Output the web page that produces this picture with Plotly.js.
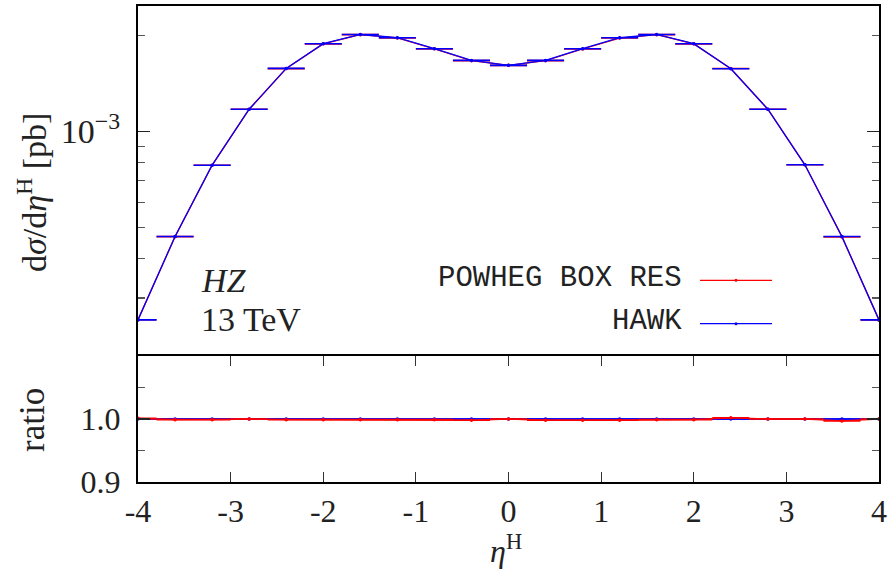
<!DOCTYPE html>
<html>
<head>
<meta charset="utf-8">
<script src="https://cdn.plot.ly/plotly-3.0.1.min.js"></script>
<style>html,body{margin:0;padding:0;background:#fff}#chart{width:895px;height:572px}</style>
</head>
<body>
<div id="chart"></div>
<script>
// bin centres of eta^H (bin width 0.4)
const etaH = [-4.0,-3.6,-3.2,-2.8,-2.4,-2.0,-1.6,-1.2,-0.8,-0.4,0.0,0.4,0.8,1.2,1.6,2.0,2.4,2.8,3.2,3.6,4.0];
// dsigma/deta^H [pb]
const hawk = [2.56e-4,4.68e-4,7.84e-4,1.175e-3,1.579e-3,1.888e-3,2.018e-3,1.971e-3,1.821e-3,1.673e-3,1.614e-3,1.673e-3,1.821e-3,1.971e-3,2.018e-3,1.888e-3,1.575e-3,1.175e-3,7.86e-4,4.68e-4,2.56e-4];
const powheg = [2.563e-4,4.675e-4,7.833e-4,1.175e-3,1.577e-3,1.886e-3,2.016e-3,1.969e-3,1.819e-3,1.670e-3,1.614e-3,1.670e-3,1.817e-3,1.967e-3,2.016e-3,1.886e-3,1.578e-3,1.175e-3,7.86e-4,4.666e-4,2.56e-4];
// ratios to HAWK
const ratioHawk = [1,1,1,1,1,1,1,1,1,1,1,1,1,1,1,1,1,1,1,1,1];
const ratioPowheg = [1.001,0.999,0.999,1.000,0.999,0.999,0.999,0.999,0.999,0.998,1.000,0.998,0.998,0.998,0.999,0.999,1.002,1.000,1.000,0.997,1.000];
const halfBin = 0.2;
const xTicks = [-4,-3,-2,-1,0,1,2,3,4];

const RED = '#ff0000', BLUE = '#0000ff';
function tr(y, color, xa, ya, name) {
  return {
    x: etaH, y: y, xaxis: xa, yaxis: ya, name: name, type: 'scatter',
    mode: 'lines+markers', showlegend: false,
    line: {color: color, width: 1.3},
    marker: {color: color, size: 3.5},
    error_x: {type: 'constant', value: halfBin, width: 0, thickness: 1.6, color: color},
    cliponaxis: true, hoverinfo: 'skip'
  };
}
const data = [
  tr(powheg, RED, 'x', 'y', 'POWHEG BOX RES'),
  tr(hawk, BLUE, 'x', 'y', 'HAWK'),
  tr(ratioHawk, BLUE, 'x2', 'y2', 'HAWK'),
  tr(ratioPowheg, RED, 'x2', 'y2', 'POWHEG BOX RES')
];

const W = 741, H = 476, L = 138, T = 6;
const px = v => (v - L) / W;
const py = v => (T + H - v) / H;
const serif = 'Liberation Serif, serif';
const TXT = '#222';
const splitY = 127 / H;

const axX = {
  range: [-4, 4], tickvals: xTicks, tickwidth: 1.2, tickcolor: '#333',
  showline: true, linecolor: '#000', linewidth: 2, showgrid: false, zeroline: false
};
const layout = {
  width: 895, height: 572,
  margin: {l: L, r: 895 - L - W, t: T, b: 572 - T - H},
  paper_bgcolor: '#fff', plot_bgcolor: '#fff',
  font: {family: serif, size: 32, color: TXT},
  xaxis: Object.assign({}, axX, {anchor: 'y', mirror: true, ticks: '', showticklabels: false}),
  xaxis2: Object.assign({}, axX, {anchor: 'y2', mirror: 'ticks', ticks: 'inside', ticklen: 10, showticklabels: true,
    ticktext: xTicks.map(v => v < 0 ? '-' + Math.abs(v) : String(v)),
    tickfont: {family: serif, size: 32, color: TXT}}),
  yaxis: {
    type: 'log', domain: [splitY + 1 / H, 1], anchor: 'x',
    range: [Math.log10(2.0e-4), Math.log10(2.48e-3)],
    tickvals: [1e-3], ticktext: ['10<sup>−3</sup>'],
    ticks: 'inside', ticklen: 12, tickwidth: 1.2, tickcolor: '#222',
    minor: {tickvals: [2e-4,3e-4,4e-4,5e-4,6e-4,7e-4,8e-4,9e-4,2e-3], ticks: 'inside', ticklen: 7, tickwidth: 1.2, tickcolor: '#555', showgrid: false},
    showline: true, linecolor: '#000', linewidth: 2, mirror: 'ticks', showgrid: false, zeroline: false,
    tickfont: {family: serif, size: 34, color: TXT}, ticklabelstandoff: 9
  },
  yaxis2: {
    domain: [0, splitY - 1 / H], anchor: 'x2', range: [0.9, 1.1],
    tickvals: [0.9, 1.0], ticktext: ['0.9', '1.0'],
    ticks: 'inside', ticklen: 12, tickwidth: 1.2, tickcolor: '#222',
    minor: {tickvals: [0.95, 1.05], ticks: 'inside', ticklen: 7, tickwidth: 1.2, tickcolor: '#555', showgrid: false},
    showline: true, linecolor: '#000', linewidth: 2, mirror: 'ticks', showgrid: false, zeroline: false,
    tickfont: {family: serif, size: 32, color: TXT}, ticklabelstandoff: 9
  },
  annotations: [
    {text: 'd<i>σ</i>/d<i>η</i><sup>H</sup> [pb]', xref: 'paper', yref: 'paper', x: px(32), y: py(193), textangle: -90,
     xanchor: 'center', yanchor: 'middle', showarrow: false, font: {family: serif, size: 34, color: TXT}},
    {text: 'ratio', xref: 'paper', yref: 'paper', x: px(32), y: py(420), textangle: -90,
     xanchor: 'center', yanchor: 'middle', showarrow: false, font: {family: serif, size: 35, color: TXT}},
    {text: '<i>η</i><sup>H</sup>', xref: 'paper', yref: 'paper', x: px(506), y: py(549),
     xanchor: 'center', yanchor: 'middle', showarrow: false, font: {family: serif, size: 32, color: TXT}},
    {text: '<i>HZ</i>', xref: 'paper', yref: 'paper', x: px(199), y: py(280),
     xanchor: 'left', yanchor: 'middle', showarrow: false, font: {family: serif, size: 34, color: TXT}},
    {text: '13 TeV', xref: 'paper', yref: 'paper', x: px(199), y: py(319),
     xanchor: 'left', yanchor: 'middle', showarrow: false, font: {family: serif, size: 34, color: TXT}},
    {text: 'POWHEG BOX RES', xref: 'paper', yref: 'paper', x: px(684), y: py(278),
     xanchor: 'right', yanchor: 'middle', showarrow: false, font: {family: 'Liberation Mono, monospace', size: 29, color: TXT}},
    {text: 'HAWK', xref: 'paper', yref: 'paper', x: px(684), y: py(321),
     xanchor: 'right', yanchor: 'middle', showarrow: false, font: {family: 'Liberation Mono, monospace', size: 29, color: TXT}}
  ],
  shapes: [
    {type: 'line', xref: 'paper', yref: 'paper', x0: px(700), x1: px(772), y0: py(280.3), y1: py(280.3), line: {color: RED, width: 1.3}},
    {type: 'line', xref: 'paper', yref: 'paper', x0: px(700), x1: px(772), y0: py(323.7), y1: py(323.7), line: {color: BLUE, width: 1.3}},
    {type: 'circle', xref: 'paper', yref: 'paper', x0: px(734.5), x1: px(737.5), y0: py(278.8), y1: py(281.8), fillcolor: RED, line: {width: 0}},
    {type: 'circle', xref: 'paper', yref: 'paper', x0: px(734.5), x1: px(737.5), y0: py(322.2), y1: py(325.2), fillcolor: BLUE, line: {width: 0}}
  ]
};
Plotly.newPlot('chart', data, layout, {staticPlot: true, displayModeBar: false});
</script>
</body>
</html>
